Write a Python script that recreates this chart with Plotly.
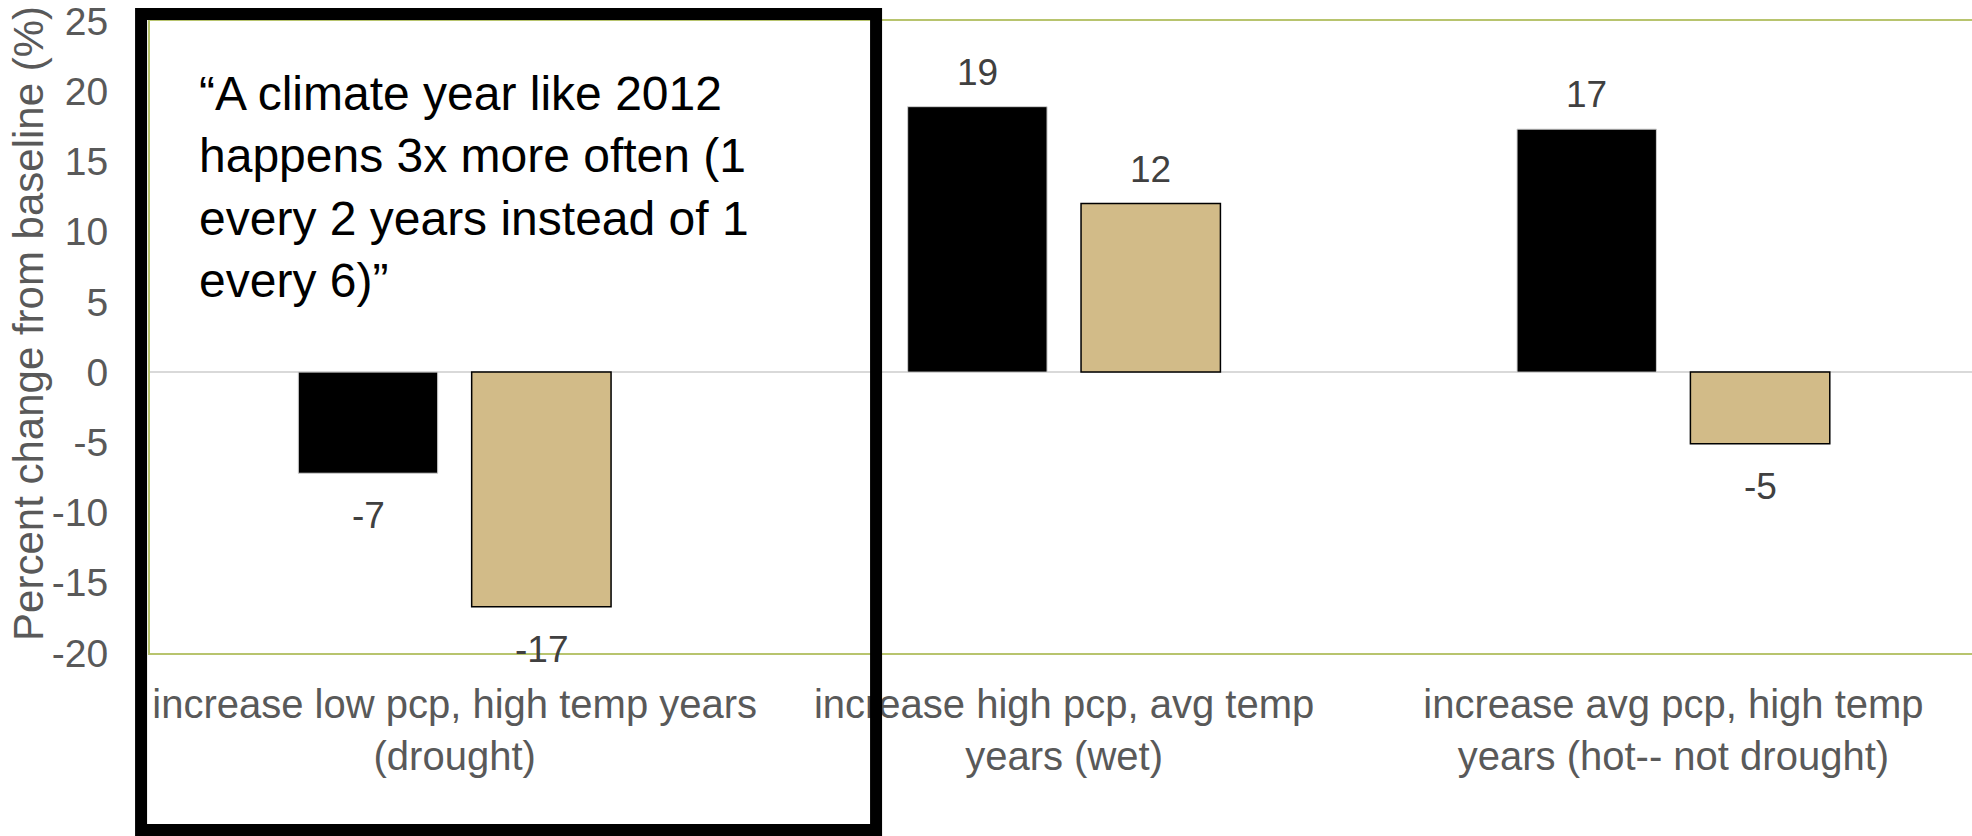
import plotly.graph_objects as go

categories = [
    "increase low pcp, high temp years<br>(drought)",
    "increase high pcp, avg temp<br>years (wet)",
    "increase avg pcp, high temp<br>years (hot-- not drought)",
]
series_a = [-7.2, 18.9, 17.3]
series_b = [-16.7, 12.0, -5.1]
y_ticks = [25, 20, 15, 10, 5, 0, -5, -10, -15, -20]
quote = ("\u201cA climate year like 2012<br>happens 3x more often (1<br>"
         "every 2 years instead of 1<br>every 6)\u201d")

FONT = "Liberation Sans, Arial, sans-serif"
GREEN = "#b8c46e"
TAN = "#d2bb88"

fig = go.Figure()
fig.add_trace(go.Bar(x=list(range(len(categories))), y=series_a, marker=dict(color="#000000", line=dict(color="#d0d0d0", width=1)),
                     showlegend=False, hoverinfo="skip"))
fig.add_trace(go.Bar(x=list(range(len(categories))), y=series_b, marker=dict(color=TAN, line=dict(color="#000000", width=1.5)),
                     showlegend=False, hoverinfo="skip"))

bargap = 0.431
slot = (1 - bargap) / 2
annotations = []
for si, vals in enumerate([series_a, series_b]):
    off = (si - 0.5) * slot
    for i, v in enumerate(vals):
        annotations.append(dict(
            x=i + off, y=v, xref="x", yref="y", text=f"{round(v):d}",
            showarrow=False, font=dict(family=FONT, size=37, color="#404040"),
            yanchor="bottom" if v >= 0 else "top", yshift=12 if v >= 0 else -20,
        ))

annotations.append(dict(
    x=-0.067, y=0.5, xref="paper", yref="paper", text="Percent change from baseline (%)",
    textangle=-90, showarrow=False, font=dict(family=FONT, size=42, color="#595959"),
    xanchor="center", yanchor="middle", yshift=14,
))
annotations.append(dict(
    x=0.026, y=0.93, xref="paper", yref="paper", text=quote, align="left",
    showarrow=False, font=dict(family=FONT, size=48, color="#000000"),
    xanchor="left", yanchor="top",
))

fig.update_layout(
    width=1972, height=836,
    margin=dict(l=150, r=0, t=21, b=183),
    paper_bgcolor="white", plot_bgcolor="white",
    barmode="group", bargap=bargap, bargroupgap=0.196,
    font=dict(family=FONT, color="#595959"),
    annotations=annotations,
    shapes=[dict(type="rect", xref="paper", yref="paper",
                 x0=-0.0049, x1=0.3985, y0=-0.28, y1=1.0111,
                 line=dict(color="#000000", width=12), layer="above")],
)
fig.update_xaxes(
    range=[-0.5, 2.49], tickmode="array", tickvals=list(range(len(categories))), ticktext=categories,
    showline=True, mirror=True, linecolor=GREEN, linewidth=2, showgrid=False, zeroline=False,
    ticks="outside", ticklen=15, tickcolor="rgba(0,0,0,0)",
    tickfont=dict(family=FONT, size=40, color="#595959"),
)
fig.update_yaxes(
    range=[-20, 25], tickmode="array", tickvals=y_ticks, ticktext=[str(t) for t in y_ticks],
    showline=True, mirror=False, linecolor=GREEN, linewidth=2, showgrid=False,
    zeroline=True, zerolinecolor="#d9d9d9", zerolinewidth=2,
    ticks="outside", ticklen=32, tickcolor="rgba(0,0,0,0)", ticklabeloverflow="allow",
    tickfont=dict(family=FONT, size=39, color="#595959"),
)

fig.write_html("out.html")
